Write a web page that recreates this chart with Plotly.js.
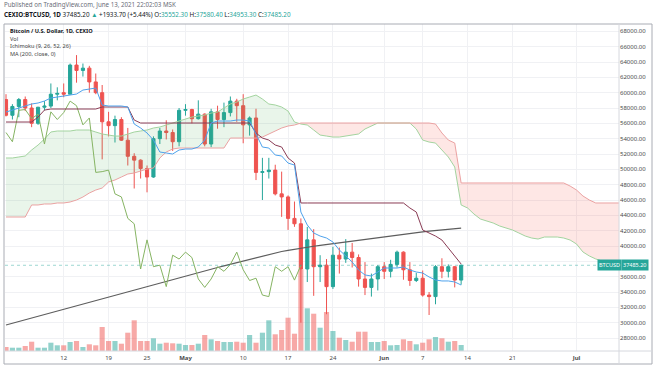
<!DOCTYPE html>
<html><head><meta charset="utf-8">
<script src="https://cdn.plot.ly/plotly-3.0.1.min.js"></script>
<style>html,body{margin:0;padding:0;background:#fff}#chart{width:654px;height:366px}</style>
</head><body><div id="chart"></div>
<script>
// ---- data (daily, starting 2021-04-03) ----
const startDate = '2021-04-03';
const open  = [59100,57050,58200,59100,58000,56000,58100,58250,59800,60000,59800,63600,62900,63200,61400,60000,56200,55700,56500,53800,51700,51200,50100,49000,54000,55000,54800,53600,57700,57800,56600,57200,53300,57500,56500,57400,58900,58300,55800,56700,49600,49700,49900,46800,46400,43600,42900,37000,40800,37300,37500,34700,38800,38300,39200,38500,35700,34600,35700,37300,36700,37600,39200,36900,35500,35800,33600,33400,37300,36700,37300,35552.3];
const high  = [59800,58500,59300,59500,58600,58150,58900,61200,60700,61200,63800,64900,63800,63500,62500,61000,57500,57000,56800,55400,52100,51300,50500,54300,55400,56400,55200,58000,58500,57900,59000,57300,57900,58300,58700,59500,59200,59800,56900,57900,51500,51500,50600,49700,46600,45800,43600,42500,42200,38800,38300,39900,39800,40900,40400,38900,37900,36400,37500,37900,38200,39400,39300,37900,36500,36800,34000,37500,38400,37600,37400,37580.4];
const low   = [56900,56500,56800,57600,55500,55800,57700,58000,59000,59400,59800,61300,62100,60000,59800,51300,54300,53500,53700,50500,47500,48800,47000,48900,53300,53900,52400,53000,57000,56000,56500,53000,52900,55300,55500,56900,56200,53400,54400,48600,46000,48800,46600,43800,42100,42500,30000,35300,33500,35300,31100,34400,36400,37800,37200,34700,33600,33400,34200,35700,35900,37200,35600,34800,35300,33400,31000,32400,35800,35900,34600,34953.3];
const close = [57050,58200,59100,58000,56000,58100,58250,59800,59900,59800,63600,62900,63200,61400,60000,56200,55700,56500,53800,51700,51200,50100,49000,54000,55000,54800,53600,57700,57800,56600,57200,53300,57500,56500,57400,58900,58300,55800,56700,49600,49700,49900,46800,46400,43600,42900,37000,40800,37300,37500,34700,38800,38300,39200,38500,35700,34600,35700,37300,36700,37600,39200,36900,35500,35800,33600,33400,37300,36700,37300,35551.5,37485.2];
const volume = [400,330,330,500,930,330,330,830,570,570,900,1000,400,670,570,2400,1000,1000,730,1830,3070,1000,1000,1270,730,830,770,730,600,600,730,1600,1170,1000,900,900,930,830,1600,830,1830,3070,1670,2100,3330,1730,8170,4270,3730,2330,3900,2000,1330,1100,930,1930,1930,900,900,1000,570,600,1170,1000,670,830,1170,1400,1270,930,1000,600];
const ma200 = [29700,29930,30160,30390,30620,30850,31080,31310,31540,31770,32000,32230,32460,32690,32920,33150,33380,33610,33840,34070,34300,34530,34760,34990,35220,35450,35680,35910,36125,36340,36555,36770,36985,37200,37415,37630,37845,38060,38275,38490,38705,38920,39135,39285,39435,39585,39735,39850,39965,40080,40195,40310,40425,40540,40655,40770,40885,41000,41115,41230,41335,41440,41545,41650,41755,41850,41930,42010,42090,42170,42250,42330];
const tenkan = [57470,57730,58000,58260,58520,58650,58910,59300,59430,59560,59690,59820,60340,60470,60600,58390,58260,58260,58260,58130,55910,55390,54740,53820,52260,52130,52000,52520,52650,52650,52910,53820,56040,56300,56300,56300,56430,56430,56300,54610,52910,52780,51870,51740,50820,50560,44430,42740,41700,41300,41040,40520,39480,38700,37910,36870,36220,36090,36610,37130,37130,37130,37260,36870,36610,36480,35960,35570,35440,35440,35310,34910];
const kijun = [56170,56170,56170,56170,56170,56820,57730,57870,57870,57870,57870,57870,57870,57870,57870,58130,58130,58130,58130,58130,56430,56040,56040,56040,56040,56040,56040,56040,56040,56040,56040,56040,56040,56040,56040,56040,56040,56040,56040,54740,54080,53820,53170,52910,51480,50820,45610,45610,45610,45610,45610,45610,45610,45610,45610,45610,45610,45610,45610,45610,45610,45610,45610,44960,44430,42090,41700,41300,40780,39740,38830,37650];
const senkouA = [51480,51480,51610,51740,52520,53170,53950,54870,55000,55000,55000,55130,55130,55130,54870,54610,54470,54340,54340,54610,54870,55000,55130,55390,55520,55780,56040,56300,56560,56820,56950,57080,57340,57470,58000,58520,58780,59170,59430,59690,59170,58520,58390,58130,57600,56170,55910,55780,55130,54470,54340,54210,54210,54340,54470,54610,55260,55650,56040,56040,56040,56040,56040,56040,55260,53820,53560,53430,52520,51610,50300,45350,44960,44170,43520,43260,43000,42610,42350,42090,41700,41300,41040,40910,41170,41170,41170,41040,40780,40260,39220,38700,38310,38040,37910,37910,37780];
const senkouB = [43780,43780,43780,43780,45350,45350,45480,45480,45610,45610,45740,46000,46390,46910,47300,47560,48350,48610,49000,49390,49520,49780,50040,50170,51480,52260,52650,52780,52780,52780,52780,52780,52780,52780,52780,54080,54080,54080,54080,54080,54210,54600,55000,55390,55650,55780,56040,56040,56040,56040,56040,56040,56040,56040,56040,56040,56040,56040,56040,56040,56040,56040,56040,56040,56040,56040,56040,55910,54740,53820,53430,48220,48220,48220,48220,48220,48220,48220,48220,48220,48220,48220,48220,48220,48220,48220,48220,48220,47820,47300,46520,46000,45610,45610,45610,45610,45610];
const chikouShift = 25;
const tickDates  = ['2021-04-12','2021-04-19','2021-04-25','2021-05-01','2021-05-10','2021-05-17','2021-05-24','2021-06-01','2021-06-07','2021-06-14','2021-06-21','2021-07-01'];
const tickLabels = ['12','19','25','<b>May</b>','10','17','24','<b>Jun</b>','7','14','21','<b>Jul</b>'];
const priceTicks = [28000,30000,32000,34000,36000,38000,40000,42000,44000,46000,48000,50000,52000,54000,56000,58000,60000,62000,64000,66000,68000];

// ---- helpers ----
const DAY = 86400000;
const t0 = Date.parse(startDate + 'T00:00:00Z');
const dayStr = k => new Date(t0 + k * DAY).toISOString().slice(0, 10);
const dates = close.map((_, k) => dayStr(k));
const cloudDates = senkouA.map((_, k) => dayStr(k));
const cloudT = senkouA.map((_, k) => t0 + k * DAY);
const GREEN = '#26a69a', RED = '#ef5350';
const up = close.map((c, k) => c >= open[k]);

// cloud polygons split at crossings
function cloudSegments() {
  const segs = []; let cur = null;
  for (let k = 0; k < senkouA.length; k++) {
    const g = senkouA[k] >= senkouB[k];
    const p = {t: cloudT[k], a: senkouA[k], b: senkouB[k]};
    if (!cur) { cur = {g, pts: [p]}; continue; }
    if (g === cur.g) { cur.pts.push(p); continue; }
    const d0 = senkouA[k-1] - senkouB[k-1], d1 = senkouA[k] - senkouB[k];
    const f = d0 / (d0 - d1);
    const tc = cloudT[k-1] + f * DAY, vc = senkouA[k-1] + f * (senkouA[k] - senkouA[k-1]);
    cur.pts.push({t: tc, a: vc, b: vc}); segs.push(cur);
    cur = {g, pts: [{t: tc, a: vc, b: vc}, p]};
  }
  segs.push(cur);
  return segs;
}
const traces = [];
traces.push({type: 'bar', x: dates, y: volume, xaxis: 'x', yaxis: 'y',
  width: 0.8 * DAY, marker: {color: up.map(u => u ? 'rgba(38,166,154,0.5)' : 'rgba(239,83,80,0.5)'), line: {width: 0}},
  hoverinfo: 'skip'});
cloudSegments().forEach(s => {
  const xs = s.pts.map(p => p.t).concat(s.pts.map(p => p.t).reverse());
  const ys = s.pts.map(p => p.a).concat(s.pts.map(p => p.b).reverse());
  traces.push({type: 'scatter', mode: 'lines', x: xs, y: ys, yaxis: 'y2', fill: 'toself',
    fillcolor: s.g ? 'rgba(76,175,80,0.12)' : 'rgba(244,67,54,0.13)', line: {width: 0}, hoverinfo: 'skip'});
});
traces.push({type: 'scatter', mode: 'lines', x: cloudDates, y: senkouA, yaxis: 'y2', line: {color: '#a3d49f', width: 1}, hoverinfo: 'skip'});
traces.push({type: 'scatter', mode: 'lines', x: cloudDates, y: senkouB, yaxis: 'y2', line: {color: '#eba2a2', width: 1}, hoverinfo: 'skip'});
traces.push({type: 'scatter', mode: 'lines', x: dates, y: ma200, yaxis: 'y2', line: {color: '#5d5d5d', width: 1.2}, hoverinfo: 'skip'});
traces.push({type: 'scatter', mode: 'lines', x: dates.slice(0, close.length - chikouShift), y: close.slice(chikouShift), yaxis: 'y2', line: {color: '#86b463', width: 1}, hoverinfo: 'skip'});
traces.push({type: 'scatter', mode: 'lines', x: dates, y: kijun, yaxis: 'y2', line: {color: '#8a3c55', width: 1}, hoverinfo: 'skip'});
traces.push({type: 'scatter', mode: 'lines', x: dates, y: tenkan, yaxis: 'y2', line: {color: '#4ea2ec', width: 1}, hoverinfo: 'skip'});
traces.push({type: 'candlestick', x: dates, open, high, low, close, xaxis: 'x', yaxis: 'y2',
  increasing: {line: {color: GREEN, width: 1}, fillcolor: GREEN},
  decreasing: {line: {color: RED, width: 1}, fillcolor: RED},
  whiskerwidth: 0, hoverinfo: 'skip'});

// pixel -> paper helpers (plot area: x 5..619, y 24..351)
const px = v => (v - 5) / 614, py = v => (351 - v) / 327;
const FONT = 'Noto Sans, Open Sans, sans-serif';
const txt = (x, y, text, size, color) => ({xref: 'paper', yref: 'paper', x: px(x), y: py(y), text, showarrow: false,
  xanchor: 'left', yanchor: 'middle', align: 'left', font: {family: FONT, size, color}});
const g = s => `<span style="color:${GREEN}">${s}</span>`;
const annotations = [
  txt(2, 5, 'Published on TradingView.com, June 13, 2021 22:02:03 MSK', 6.2, '#6a6d78'),
  txt(2, 14.5, `<b>CEXIO:BTCUSD, 1D</b> 37485.20 ${g('▲')} +1933.70 (+5.44%) O:${g('35552.30')} H:${g('37580.40')} L:${g('34953.30')} C:${g('37485.20')}`, 6.3, '#131722'),
  txt(8, 31, '<b>Bitcoin / U.S. Dollar, 1D, CEXIO</b>', 5.6, '#131722'),
  txt(8, 38.8, 'Vol', 5.6, '#444'),
  txt(8, 46.4, 'Ichimoku (9, 26, 52, 26)', 5.6, '#444'),
  txt(8, 54, 'MA (200, close, 0)', 5.6, '#444'),
  {xref: 'paper', yref: 'y2', x: px(609), y: close[close.length - 1], text: 'BTCUSD', showarrow: false, xanchor: 'center', yanchor: 'middle',
   bgcolor: GREEN, borderpad: 1, font: {family: FONT, size: 5.5, color: '#fff'}},
  {xref: 'paper', yref: 'y2', x: px(635), y: close[close.length - 1], text: close[close.length - 1].toFixed(2), showarrow: false, xanchor: 'center', yanchor: 'middle',
   bgcolor: GREEN, borderpad: 1, font: {family: FONT, size: 5.5, color: '#fff'}}
];
const shapes = [
  {type: 'rect', xref: 'paper', yref: 'paper', x0: px(4), x1: px(652), y0: py(364), y1: py(24), line: {color: '#a9acb4', width: 1}},
  {type: 'line', xref: 'paper', yref: 'paper', x0: px(4), x1: px(652), y0: 0, y1: 0, line: {color: '#d6d8de', width: 1}},
  {type: 'line', xref: 'paper', yref: 'paper', x0: 1, x1: 1, y0: py(364), y1: 1, line: {color: '#d6d8de', width: 1}},
  {type: 'line', xref: 'paper', yref: 'y2', x0: 0, x1: 1, y0: close[close.length - 1], y1: close[close.length - 1], line: {color: 'rgba(38,166,154,0.45)', width: 1, dash: 'dot'}}
];
const layout = {
  width: 654, height: 366, margin: {l: 5, r: 35, t: 24, b: 15}, paper_bgcolor: '#fff', plot_bgcolor: '#fff',
  showlegend: false, hovermode: false, dragmode: false,
  font: {family: FONT, size: 6, color: '#4a4a4a'},
  xaxis: {type: 'date', range: ['2021-04-02 20:15', '2021-07-07 15:00'], tickvals: tickDates, ticktext: tickLabels,
    showgrid: true, gridcolor: '#f0f1f4', gridwidth: 1, zeroline: false, showline: false, ticks: '', ticklabelstandoff: 2,
    tickfont: {family: FONT, size: 6, color: '#4a4a4a'}, rangeslider: {visible: false}, fixedrange: true},
  yaxis: {range: [0, 32700], visible: false, showgrid: false, zeroline: false, fixedrange: true},
  yaxis2: {overlaying: 'y', side: 'right', range: [26305, 68956], tickvals: priceTicks,
    ticktext: priceTicks.map(v => v === 38000 ? '' : v.toFixed(2)), showgrid: true, gridcolor: '#f0f1f4', zeroline: false, showline: false,
    ticks: '', tickfont: {family: FONT, size: 6, color: '#4a4a4a'}, fixedrange: true},
  shapes, annotations
};
Plotly.newPlot('chart', traces, layout, {staticPlot: true, displayModeBar: false});
</script></body></html>
